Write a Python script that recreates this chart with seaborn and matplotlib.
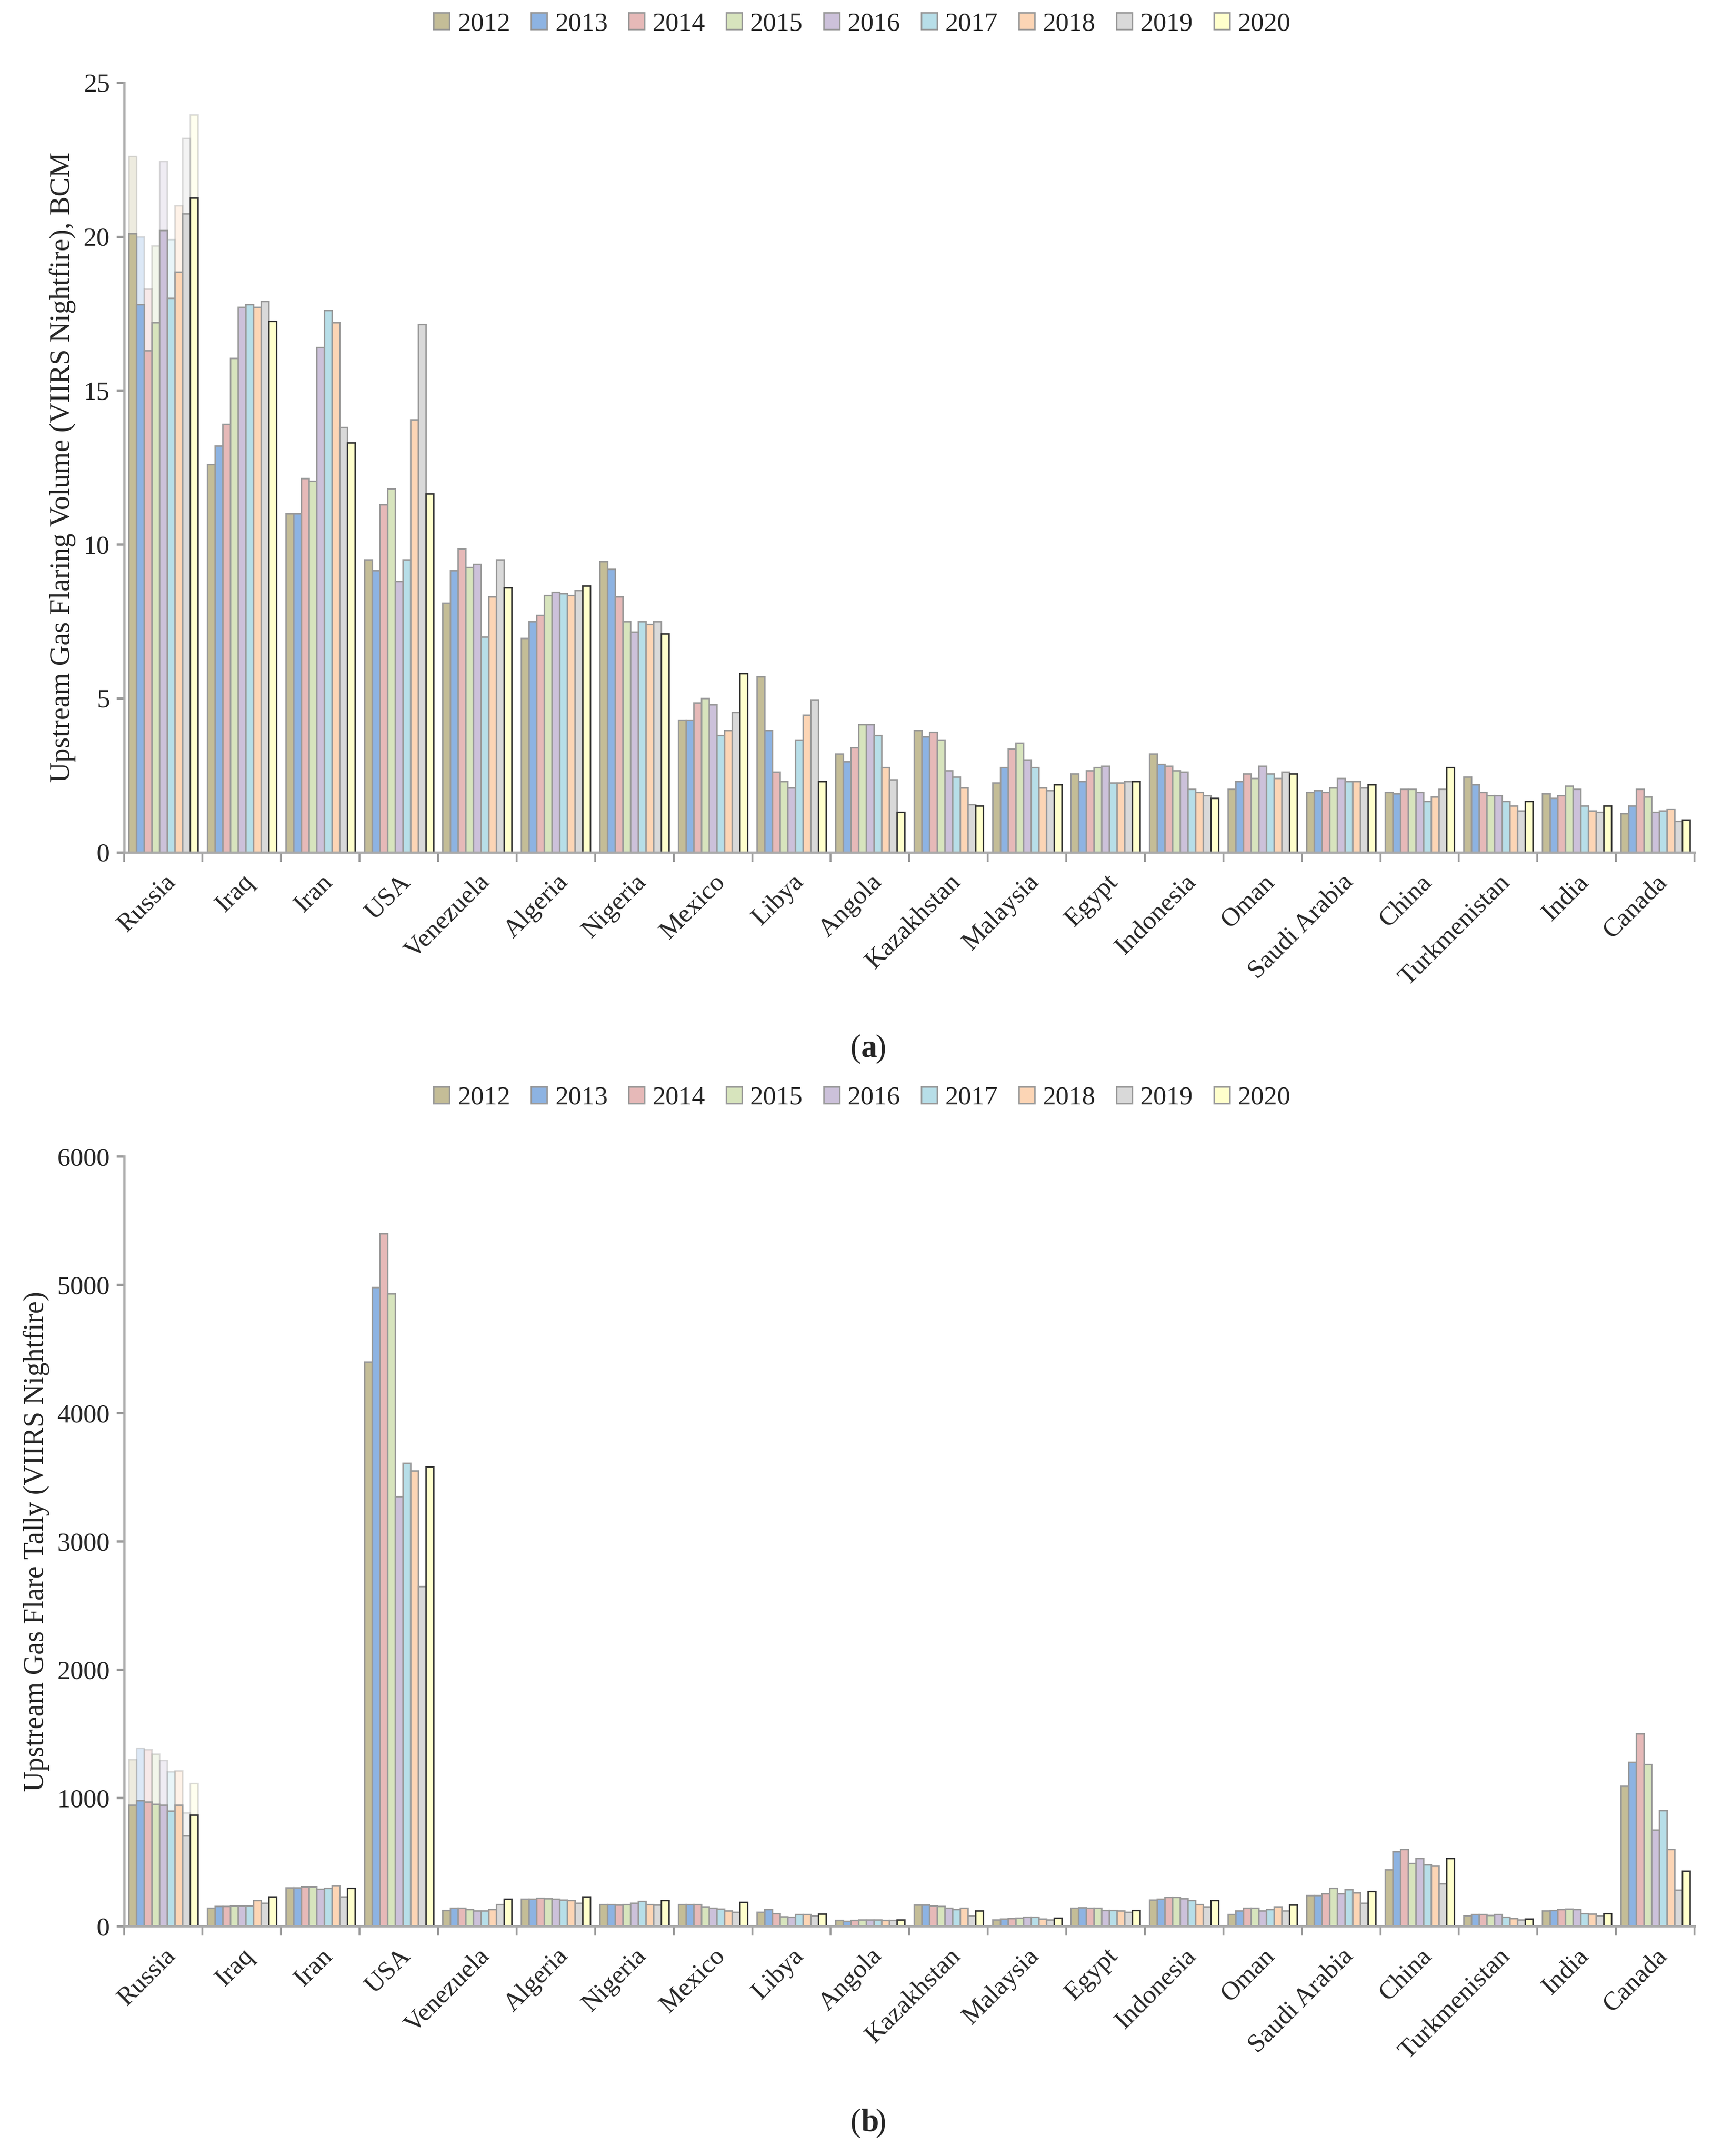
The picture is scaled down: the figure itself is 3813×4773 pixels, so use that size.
import numpy as np
import pandas as pd
import matplotlib
matplotlib.use("Agg")
import matplotlib.pyplot as plt
import seaborn as sns

countries = ["Russia","Iraq","Iran","USA","Venezuela","Algeria","Nigeria","Mexico","Libya","Angola",
             "Kazakhstan","Malaysia","Egypt","Indonesia","Oman","Saudi Arabia","China","Turkmenistan","India","Canada"]
years = ["2012","2013","2014","2015","2016","2017","2018","2019","2020"]

# Flaring volume, BCM (rows = countries, columns = years)
volume = [
 [20.1,17.8,16.3,17.2,20.2,18.0,18.85,20.75,21.25],
 [12.6,13.2,13.9,16.05,17.7,17.8,17.7,17.9,17.25],
 [11.0,11.0,12.15,12.05,16.4,17.6,17.2,13.8,13.3],
 [9.5,9.15,11.3,11.8,8.8,9.5,14.05,17.15,11.65],
 [8.1,9.15,9.85,9.25,9.35,7.0,8.3,9.5,8.6],
 [6.95,7.5,7.7,8.35,8.45,8.4,8.35,8.5,8.65],
 [9.45,9.2,8.3,7.5,7.15,7.5,7.4,7.5,7.1],
 [4.3,4.3,4.85,5.0,4.8,3.8,3.95,4.55,5.8],
 [5.7,3.95,2.6,2.3,2.1,3.65,4.45,4.95,2.3],
 [3.2,2.95,3.4,4.15,4.15,3.8,2.75,2.35,1.3],
 [3.95,3.75,3.9,3.65,2.65,2.45,2.1,1.55,1.5],
 [2.25,2.75,3.35,3.55,3.0,2.75,2.1,2.0,2.2],
 [2.55,2.3,2.65,2.75,2.8,2.25,2.25,2.3,2.3],
 [3.2,2.85,2.8,2.65,2.6,2.05,1.95,1.85,1.75],
 [2.05,2.3,2.55,2.4,2.8,2.55,2.4,2.6,2.55],
 [1.95,2.0,1.95,2.1,2.4,2.3,2.3,2.1,2.2],
 [1.95,1.9,2.05,2.05,1.95,1.65,1.8,2.05,2.75],
 [2.45,2.2,1.95,1.85,1.85,1.65,1.5,1.35,1.65],
 [1.9,1.75,1.85,2.15,2.05,1.5,1.35,1.3,1.5],
 [1.25,1.5,2.05,1.8,1.3,1.35,1.4,1.0,1.05],
]
# Russia upper (light) bars
russia_volume_upper = [22.6,20.0,18.3,19.7,22.45,19.9,21.0,23.2,23.95]

tally = [
 [943,978,970,951,943,897,943,703,865],
 [140,155,155,160,160,160,200,180,230],
 [300,300,305,305,290,295,315,230,295],
 [4400,4980,5400,4930,3350,3610,3550,2650,3580],
 [125,140,140,130,120,120,130,170,210],
 [210,210,220,215,210,205,200,180,230],
 [170,170,165,170,180,195,170,165,200],
 [170,170,170,150,140,135,120,110,185],
 [110,130,100,75,70,90,90,80,95],
 [45,40,45,50,50,50,45,45,50],
 [165,165,160,155,140,130,140,80,120],
 [50,55,60,65,70,70,55,50,65],
 [140,145,140,140,125,125,120,110,125],
 [205,210,225,225,215,200,170,150,200],
 [90,120,140,140,120,130,150,120,165],
 [240,240,255,295,255,285,260,180,270],
 [440,580,600,490,530,480,470,330,530],
 [80,90,90,85,90,70,60,50,55],
 [120,125,130,135,130,100,95,80,100],
 [1090,1280,1500,1260,750,900,600,280,430],
]
russia_tally_upper = [1300,1386,1378,1343,1292,1205,1213,884,1113]

colors = ["#C4BD97","#8DB3E2","#E6B9B8","#D7E4BD","#CCC1DA","#B7DEE8","#FCD5B5","#D9D9D9","#FFFFCC"]

sns.set_theme(style="white")
plt.rcParams['font.family'] = ['Liberation Serif', 'DejaVu Serif']

def longdf(mat):
    rows = []
    for c, vals in zip(countries, mat):
        for y, v in zip(years, vals):
            rows.append((c, y, v))
    return pd.DataFrame(rows, columns=["country", "year", "value"])

fig = plt.figure(figsize=(3813/300, 4773/300), dpi=300)
W, H = 1250, 1566
axA = fig.add_axes([90/W, 1-619/H, 1140/W, 559/H])
axB = fig.add_axes([90/W, 1-1399/H, 1140/W, 559/H])

def draw(ax, mat, upper, ymax, ystep, ylabel):
    up = [list(upper)] + [[0]*9 for _ in countries[1:]]
    sns.barplot(data=longdf(up), x="country", y="value", hue="year", hue_order=years,
                palette=colors, saturation=1, ax=ax, width=0.88, alpha=0.3, edgecolor="#888888",
                linewidth=0.8, legend=False, order=countries)
    sns.barplot(data=longdf(mat), x="country", y="value", hue="year", hue_order=years,
                palette=colors, saturation=1, ax=ax, width=0.88, edgecolor="#999999",
                linewidth=0.8, order=countries)
    n = len(countries)
    for p in ax.containers[-1].patches:
        p.set_edgecolor("#333333")
    ax.set_ylim(0, ymax)
    ax.set_yticks(np.arange(0, ymax+1, ystep))
    ax.set_xlim(-0.5, n-0.5)
    ax.set_xlabel("")
    ax.set_ylabel(ylabel, fontsize=15)
    ax.set_xticks(range(n))
    ax.set_xticklabels(countries, rotation=45, ha="right", rotation_mode="anchor", fontsize=14)
    ax.tick_params(axis="y", labelsize=14, left=True, length=4, color="#999999")
    ax.tick_params(axis="x", bottom=False)
    ax.set_xticks(np.arange(-0.5, n, 1), minor=True)
    ax.tick_params(axis="x", which="minor", bottom=True, length=5, color="#999999")
    for s in ["top", "right"]:
        ax.spines[s].set_visible(False)
    for s in ["left", "bottom"]:
        ax.spines[s].set_color("#aaaaaa")
        ax.spines[s].set_linewidth(1.2)
    ax.legend(ncol=9, loc="lower center", bbox_to_anchor=(0.47, 1.03), frameon=False,
              fontsize=14, handlelength=0.6, handleheight=0.6, columnspacing=0.8, handletextpad=0.3)

draw(axA, volume, russia_volume_upper, 25, 5, "Upstream Gas Flaring Volume (VIIRS Nightfire), BCM")
draw(axB, tally, russia_tally_upper, 6000, 1000, "Upstream Gas Flare Tally (VIIRS Nightfire)")

for lab, yy in [("a", 762), ("b", 1542)]:
    fig.text(0.5, 1-yy/H, "(", ha="right", va="center", fontsize=17)
    fig.text(0.5, 1-yy/H, lab, ha="left", va="center", fontsize=17, fontweight="bold")
    fig.text(0.5085, 1-yy/H, ")", ha="left", va="center", fontsize=17)

fig.savefig("out.png", dpi=300, facecolor="white")
